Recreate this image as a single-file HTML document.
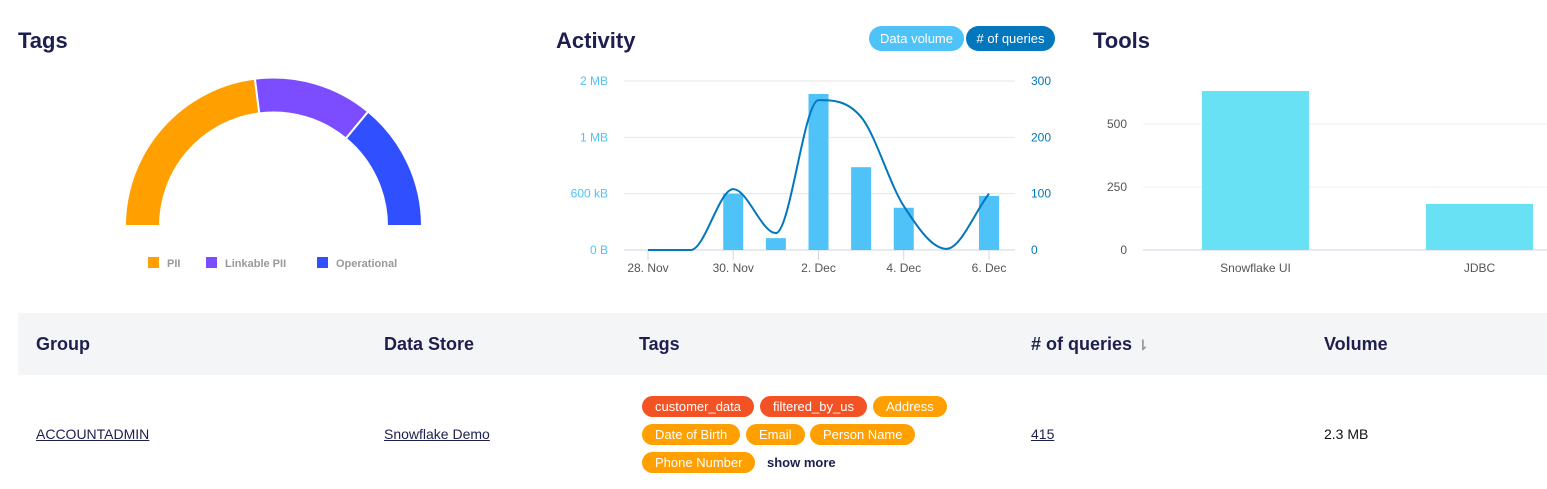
<!DOCTYPE html>
<html><head><meta charset="utf-8"><style>
body{margin:0;width:1547px;height:489px;background:#fff;font-family:"Liberation Sans",sans-serif;position:relative;overflow:hidden}
.h{position:absolute;font-weight:bold;font-size:22px;color:#1d1f4e}
.th{position:absolute;top:334px;font-weight:bold;font-size:18px;color:#1d1f4e}
.tag{position:absolute;height:21px;line-height:21px;border-radius:11px;color:#fff;font-size:13px;padding:0 13px;white-space:nowrap}
.r{background:#f35224}.o{background:#ff9f00}
a{color:#1d1f4e}
</style></head><body>
<div class="h" style="left:18px;top:28px">Tags</div>
<div class="h" style="left:556px;top:28px">Activity</div>
<div class="h" style="left:1093px;top:28px">Tools</div>
<div style="position:absolute;left:869px;top:26px;width:95px;height:25px;border-radius:13px;background:#4fc3f7;color:#fff;font-size:13px;line-height:25px;text-align:center">Data volume</div>
<div style="position:absolute;left:966px;top:26px;width:89px;height:25px;border-radius:13px;background:#0277bd;color:#fff;font-size:13px;line-height:25px;text-align:center"># of queries</div>

<svg id="donut" style="position:absolute;left:0;top:0" width="540" height="300"></svg>
<svg id="act" style="position:absolute;left:0;top:0" width="1547" height="300"></svg>

<div style="position:absolute;left:18px;top:313px;width:1529px;height:62px;background:#f4f5f7"></div>
<div class="th" style="left:36px">Group</div>
<div class="th" style="left:384px">Data Store</div>
<div class="th" style="left:639px">Tags</div>
<div class="th" style="left:1031px"># of queries <span style="color:#999;font-size:14px">⇂</span></div>
<div class="th" style="left:1324px">Volume</div>
<a style="position:absolute;left:36px;top:426px;font-size:14px;text-decoration:underline">ACCOUNTADMIN</a>
<a style="position:absolute;left:384px;top:426px;font-size:14px;text-decoration:underline">Snowflake Demo</a>
<a style="position:absolute;left:1031px;top:426px;font-size:14px;text-decoration:underline">415</a>
<div style="position:absolute;left:1324px;top:426px;font-size:14px;color:#111">2.3 MB</div>
<div class="tag r" style="left:642px;top:396px">customer_data</div>
<div class="tag r" style="left:760px;top:396px">filtered_by_us</div>
<div class="tag o" style="left:873px;top:396px">Address</div>
<div class="tag o" style="left:642px;top:424px">Date of Birth</div>
<div class="tag o" style="left:746px;top:424px">Email</div>
<div class="tag o" style="left:810px;top:424px">Person Name</div>
<div class="tag o" style="left:642px;top:452px">Phone Number</div>
<div style="position:absolute;left:767px;top:455px;font-size:13px;font-weight:bold;color:#1d1f4e">show more</div>

<script>
const tagNames=["PII","Linkable PII","Operational"];
const tagValues=[46,26,28];
const tagColors=["#ff9f00","#7c4dff","#304ffe"];
const days=["28. Nov","29. Nov","30. Nov","1. Dec","2. Dec","3. Dec","4. Dec","5. Dec","6. Dec"];
const volume=[0,0,1.0,0.21,2.77,1.47,0.75,0,0.96];
const queries=[0,0,108,30,266,236,78,2,100];
const volTicks=["0 B","600 kB","1 MB","2 MB"];
const qTicks=["0","100","200","300"];
const tools=["Snowflake UI","JDBC"];
const toolValues=[631,183];
const toolTicks=[0,250,500];
const NS="http://www.w3.org/2000/svg";
function mk(p,t,a,txt){const e=document.createElementNS(NS,t);for(const k in a)e.setAttribute(k,a[k]);if(txt!=null)e.textContent=txt;p.appendChild(e);return e;}

// donut
const d=document.getElementById('donut');
const cx=273.5,cy=226,R=148.5,r=113.5;
const tot=tagValues.reduce((a,b)=>a+b,0);let acc=0;
tagValues.forEach((v,i)=>{
 const a0=Math.PI*(1-acc/tot),a1=Math.PI*(1-(acc+v)/tot);acc+=v;
 const p=(a,rr)=>[cx+rr*Math.cos(a),cy-rr*Math.sin(a)];
 const [x0,y0]=p(a0,R),[x1,y1]=p(a1,R),[x2,y2]=p(a1,r),[x3,y3]=p(a0,r);
 const s=mk(d,'path',{d:`M${x0},${y0}A${R},${R} 0 0 1 ${x1},${y1}L${x2},${y2}A${r},${r} 0 0 0 ${x3},${y3}Z`,fill:tagColors[i],stroke:'#fff','stroke-width':2});
 
 
});
const lx=[148,206,317];
tagNames.forEach((n,i)=>{
 const g=mk(d,'g',{});
 
 
 mk(g,'rect',{x:lx[i],y:257,width:11,height:11,fill:tagColors[i]});
 mk(g,'text',{x:lx[i]+19,y:267,'font-size':11,'font-weight':'bold',fill:'#999','font-family':'Liberation Sans'},n);
});

// activity
const s=document.getElementById('act');
const X0=648,DX=(989-648)/8,Y0=250,DY=(250-81)/3;
const xs=i=>X0+i*DX, yv=v=>Y0-v*DY, yq=q=>Y0-q/100*DY;
for(let k=0;k<4;k++){
 mk(s,'line',{x1:624,x2:1015,y1:yv(k),y2:yv(k),stroke:k?'#e6e6e6':'#ccd6eb','stroke-width':1});
 mk(s,'text',{x:608,y:yv(k)+4,'text-anchor':'end','font-size':12,fill:'#4fc3f7','font-family':'Liberation Sans'},volTicks[k]);
 mk(s,'text',{x:1031,y:yv(k)+4,'font-size':12,fill:'#0277bd','font-family':'Liberation Sans'},qTicks[k]);
}
days.forEach((dd,i)=>{if(i%2==0){mk(s,'line',{x1:xs(i),x2:xs(i),y1:250,y2:260,stroke:'#ccd6eb'});
 mk(s,'text',{x:xs(i),y:272,'text-anchor':'middle','font-size':12,fill:'#555','font-family':'Liberation Sans'},dd);}});
volume.forEach((v,i)=>{if(v>0){const b=mk(s,'rect',{x:xs(i)-10,y:yv(v),width:20,height:Y0-yv(v),fill:'#4fc3f7'});
 
 }});
// monotone cubic interpolation
const px=queries.map((q,i)=>xs(i)),py=queries.map(q=>yq(q));
const n=px.length,dl=[],m=[];
for(let i=0;i<n-1;i++)dl.push((py[i+1]-py[i])/(px[i+1]-px[i]));
m[0]=dl[0];m[n-1]=dl[n-2];
for(let i=1;i<n-1;i++)m[i]=(dl[i-1]*dl[i]<=0)?0:(dl[i-1]+dl[i])/2;
for(let i=0;i<n-1;i++){if(dl[i]===0){m[i]=0;m[i+1]=0;}else{const a=m[i]/dl[i],b=m[i+1]/dl[i],h=a*a+b*b;if(h>9){const t=3/Math.sqrt(h);m[i]=t*a*dl[i];m[i+1]=t*b*dl[i];}}}
let pd=`M${px[0]},${py[0]}`;
for(let i=0;i<n-1;i++){const h=(px[i+1]-px[i])/3;
 pd+=`C${px[i]+h},${py[i]+m[i]*h} ${px[i+1]-h},${py[i+1]-m[i+1]*h} ${px[i+1]},${py[i+1]}`;}
const ln=mk(s,'path',{d:pd,fill:'none',stroke:'#0277bd','stroke-width':2});



// tools
const TY=v=>250-v*(63/250);
toolTicks.forEach(t=>{mk(s,'line',{x1:1143,x2:1547,y1:TY(t),y2:TY(t),stroke:t?'#f2f2f2':'#ccd6eb'});
 mk(s,'text',{x:1127,y:TY(t)+4,'text-anchor':'end','font-size':12,fill:'#555','font-family':'Liberation Sans'},String(t));});
const tc=[1255.5,1479.5];
tools.forEach((t,i)=>{const b=mk(s,'rect',{x:tc[i]-53.5,y:TY(toolValues[i]),width:107,height:250-TY(toolValues[i]),fill:'#69e1f5'});
 
 
 mk(s,'text',{x:tc[i],y:272,'text-anchor':'middle','font-size':12,fill:'#555','font-family':'Liberation Sans'},t);});
</script>
</body></html>
